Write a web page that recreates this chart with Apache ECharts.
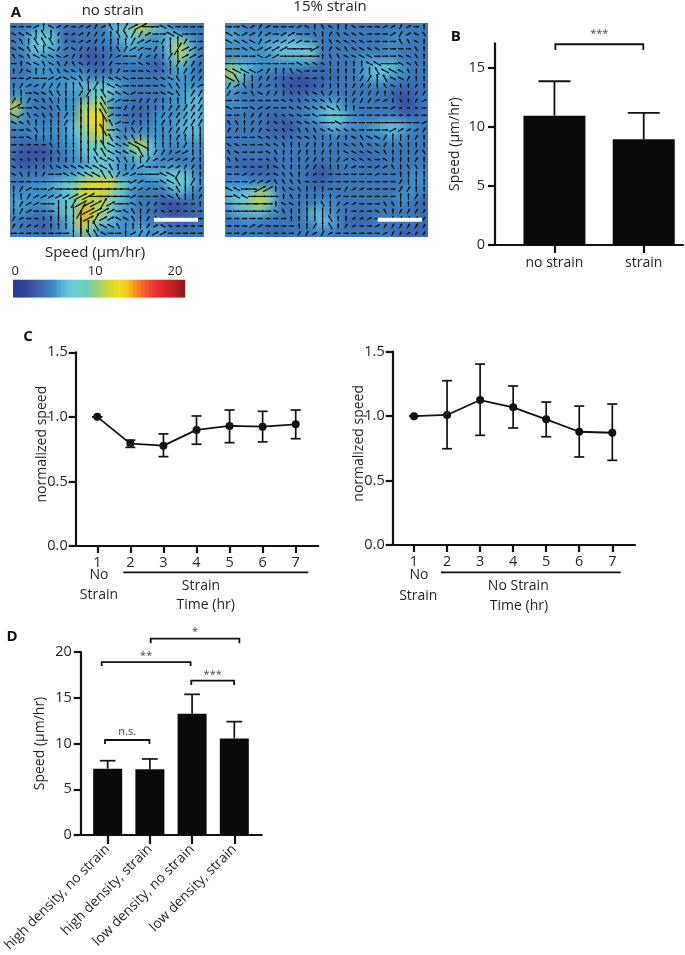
<!DOCTYPE html>
<html><head><meta charset="utf-8">
<script src="https://cdn.jsdelivr.net/npm/echarts@6/dist/echarts.min.js"></script>
<style>
html,body{margin:0;padding:0;background:#fff;width:685px;height:955px;overflow:hidden}
#heatClip{position:absolute;left:0;top:0;width:685px;height:955px;clip-path:path('M10 23H204V237H10Z M225 23H428V237H225Z')}
#heat{position:absolute;left:0;top:0;width:685px;height:955px;filter:blur(4.5px)}
#main{position:absolute;left:0;top:0;width:685px;height:955px}
</style></head><body>
<div id="heatClip"><div id="heat"></div></div>
<div id="main"></div>
<script>
// ---------- DATA ----------
const speedColors=['#2b3990','#30409a','#3a50a3','#3b64ad','#3d78b9','#3f90c8','#5fb6d8','#6dc5dd','#6ccdc8','#6ccdbe','#94cf84','#b4d25c','#d4d92e','#f0de1e','#f9c81b','#f7941d','#f26a28','#ee4035','#e22f30','#d2232a','#b81f24','#8b1a1a'];
const colorbarTicks=[0,0.5,1,1.5,2,2.5,3,3.5,4,4.5,5,5.5,6,6.5,7,7.5,8,8.5,9,9.5,10,10.5,11,11.5,12,12.5,13,13.5,14,14.5,15,15.5,16,16.5,17,17.5,18,18.5,19,19.5,20,20.5,21];
const heatNoStrain=["4456544444689ca65444","45787334445676557954","45776444344565557c74","44655443234455446b64","44555444334444325653","44555555444544445554","45455566897544445555","55445555786544445566","d544455abb5443445566","a544455bdd5433455566","5454556ade6544555666","44555568bc7455555566","433345578975ac755555","32223456787569754455","32334455676556545444","44444557897555668764","4455679bddc865557875","5555569ccca754445654","6555668bbb8654432234","5544589fcb7554432233","4433457ea76555443334","5443456a755556564444"];
const heatStrain=["55444444444444444444","65555565444444445544","55556777844444445444","55555666844445555444","a8655555434445678544","b8544332333445675544","65444322234444444334","54444433444444443234","55444444557544444224","44443344569754444334","44443324457655567654","44443334445444556544","44444444444444444444","44444444444443444444","43333444434444344444","44333444323444444455","55554444334444444455","667b9444444444444554","67ac8444455444444543","56675444665443444443","44544444576433444443","44443344454444444333"];
const dirNoStrain=["aaabdfbbabbcbedcbbaaffaaaa","fffdedcabbcccdeeccbaaffaaa","fedeeedcabbccdddcbbacddcaa","ffeedfcbfccdddecbbacddcbbb","efeffffbcceddcbaacbcdcdbbb","adffefecefccdcaaaffeedcccc","dcfddeeffecccdcaaaffeddccc","aabaabbffecddfffaaafffedcc","dcbbcccddedcdffaaaaafeedcb","ddaffeeddccdefffbaaaffedcc","cdcfeeddddddebbaacccddddcc","baaffeedddddeaacccdddccccc","fbefeedcddddebaacdddcccccc","ffeddddcdddddebacdddcdcccc","aafeddddddddeafdecdddcccdd","aafddddddddddefeedddddcddd","aaaaaeddddddefffffdddddcdd","aaaaadeddddeeffffedcccbbdd","ffeedddddddeffeeddcbbbbbcd","feeddefffffffeddcbaaabbccd","feddcaafffffeecbbaaaffcddd","aaaaaaaaaaaaaaaabbaaffedcd","dcbaabaaaaaaaaaabbbaffeddc","ddcbbbbbbbbaaaaabaaaffeddc","dcbbaaddcbbbcbaafeccaaaaad","dcbaaadddcbbbbafedccfaaaaa","cbaaddddddbcbbffedcdfaaaaa","ccbbcddddddeffedddcbffaaaa","aaaaaaaaddeefaadbccbbaaaaa"];
const dirStrain=["aafbcbaaabfdefddfaaabbcbad","ffbbcbabbaaedcefffaaabcbfe","ffffcbbbbbaadeffffaaaaeefd","aaffbbbbaaabdcfeffffaaaaed","aaaafbbaaaaadeeffffaaaffed","aaaaaaaaaffffdddddffaaffed","ffffbcddefaaaddddcdefffedd","feddcccdfaaaeddddccdeffcdd","cbedcbdedffecdddcccdefddcd","cbaefccdeeefecddccccdeddcc","aaaaaaaffefffecdcccbbdedcb","faafbbaaffffffeddaaaabbaaa","aadcccefffafaaaaaaaaaaaaaa","eedcccfeefffaafaaaaaaaaaab","ccdccffefeeefffffaaaabbbbc","aaaaffeeeffeddcdfeffcdddcd","ffaaaffeddcddcdffeffcdeddd","efaaafeddcddcddfffffedddce","eeaaafedddccddcbfffafdddcd","aaaaadfeddcceddcbaabbedeed","aabbbbfeedcbbaaaaaabaadddd","aaabbbeeeeaaaaaaaaaaaacddd","ffaabbdefedddaacbbaaaaccdd","affaaaadedddddbaaaaaaaddcd","aaaaaadffdddedcbbaaaeeddcd","aaaaaafeddddddcdaaafedcccc","aaaaaaaadddddeddbbbaadcccc","aaabbaaaaddcdedcbaabcccccc","aabaaaaaaccbcbaaaaaabccbcc"];
const dirAngles={a:0,b:28,c:60,d:90,e:120,f:152};

const catsB=['no strain','strain'];
const speedB=[10.94,8.94];
const upperB=[13.85,11.17];

const hours=[1,2,3,4,5,6,7];
const normStrain=[1.0,0.793,0.777,0.899,0.93,0.924,0.942];
const normStrainHi=[1.0,0.82,0.868,1.007,1.053,1.043,1.053];
const normStrainLo=[1.0,0.764,0.692,0.788,0.80,0.806,0.831];
const normCtrl=[1.0,1.009,1.125,1.068,0.975,0.879,0.871];
const normCtrlHi=[1.0,1.275,1.404,1.234,1.109,1.078,1.094];
const normCtrlLo=[1.0,0.747,0.851,0.908,0.84,0.683,0.657];

const catsD=['high density, no strain','high density, strain','low density, no strain','low density, strain'];
const speedD=[7.25,7.18,13.26,10.56];
const upperD=[8.12,8.31,15.37,12.39];
const bracketsB=[[1.01,1.995,16.98,16.5,'***',17.9]];
const bracketsD=[[0.936,1.99,10.38,9.95,'n.s.',11.3],[0.858,2.965,18.9,18.47,'**',19.6],[2.02,4.12,21.46,20.95,'*',22.2],[2.98,3.995,16.87,16.4,'***',17.5]];

// ---------- HELPERS ----------
const FONT='"Open Sans",sans-serif', INK='#231f20';
const heatCells=m=>m.flatMap((r,j)=>[...r].map((c,i)=>[i,j,parseInt(c,36)]));
const arrowCells=(dirs,heat)=>dirs.flatMap((r,j)=>[...r].map((c,i)=>{
  const s=parseInt(heat[Math.floor((j+.5)/dirs.length*heat.length)][Math.floor((i+.5)/r.length*heat[0].length)],36);
  return [i+.5,j+.5,dirAngles[c],1+1.1*s];
}));
const range=n=>Array.from({length:n},(_,i)=>i);

// blurred speed field
const heatGrids=[{left:10,top:23,width:194,height:214},{left:225,top:23,width:203,height:214}];
const heat=echarts.init(document.getElementById('heat'));
heat.setOption({animation:false,backgroundColor:'#3d78b9',
  grid:heatGrids,
  xAxis:heatGrids.map((g,i)=>({type:'category',gridIndex:i,show:false,data:range(20)})),
  yAxis:heatGrids.map((g,i)=>({type:'category',gridIndex:i,show:false,inverse:true,data:range(22)})),
  visualMap:{show:false,min:0,max:21,dimension:2,seriesIndex:[0,1],inRange:{color:speedColors}},
  series:[heatNoStrain,heatStrain].map((m,i)=>({type:'heatmap',xAxisIndex:i,yAxisIndex:i,data:heatCells(m),progressive:0}))
});

function arrows(g,data){return {type:'custom',xAxisIndex:g,yAxisIndex:g,data,silent:true,clip:true,z:5,progressive:0,
  encode:{x:0,y:1},
  renderItem(p,api){
    const c=api.coord([api.value(0),api.value(1)]),a=api.value(2)*Math.PI/180,l=api.value(3)/2;
    const dx=Math.cos(a),dy=-Math.sin(a),nx=-dy,ny=dx,w=1.2;
    const hb=[c[0]+dx*(l-2.4),c[1]+dy*(l-2.4)];
    return {type:'group',children:[
      {type:'line',shape:{x1:c[0]-dx*l,y1:c[1]-dy*l,x2:c[0]+dx*l,y2:c[1]+dy*l},style:{stroke:'#151515',lineWidth:1.25}},
      {type:'polygon',shape:{points:[[c[0]+dx*l,c[1]+dy*l],[hb[0]+nx*w,hb[1]+ny*w],[hb[0]-nx*w,hb[1]-ny*w]]},style:{fill:'#151515'}}
    ]};
  }};}
function errors(g,xs,hi,lo,cap,lw,lowerCap){return {type:'custom',xAxisIndex:g,yAxisIndex:g,z:4,silent:true,clip:false,
  data:xs.map((x,i)=>[x,hi[i],lo[i]]),encode:{x:0,y:[1,2]},
  renderItem(p,api){
    const x=api.value(0),t=api.coord([x,api.value(1)]),b=api.coord([x,api.value(2)]);
    const st={stroke:'#111',lineWidth:lw};
    const h=y=>({type:'line',shape:{x1:t[0]-cap/2,y1:y,x2:t[0]+cap/2,y2:y},style:st});
    const kids=[{type:'line',shape:{x1:t[0],y1:t[1],x2:b[0],y2:b[1]},style:st},h(t[1])];
    if(lowerCap)kids.push(h(b[1]));
    return {type:'group',children:kids};
  }};}
function brackets(g,list){return {type:'custom',xAxisIndex:g,yAxisIndex:g,z:6,silent:true,clip:false,
  data:list,encode:{x:[0,1],y:[2,3]},
  renderItem(p,api){
    const a=api.coord([api.value(0),api.value(2)]),b=api.coord([api.value(1),api.value(2)]),d=api.coord([api.value(0),api.value(3)]);
    const tp=api.coord([(api.value(0)+api.value(1))/2,api.value(5)]);
    return {type:'group',children:[
      {type:'polyline',shape:{points:[[a[0],d[1]],a,b,[b[0],d[1]]]},style:{stroke:'#111',fill:null,lineWidth:1.8}},
      {type:'text',style:{text:list[p.dataIndex][4],x:tp[0],y:tp[1],align:'center',verticalAlign:'middle',font:'11px '+FONT,fill:'#444'}}
    ]};
  }};}
const axisLine={show:true,onZero:false,lineStyle:{color:'#111',width:2.2}};
const tick=l=>({show:true,length:l,lineStyle:{color:'#111',width:2.2}});
const yA=(g,max,iv,name,gap,fmt,pad,margin)=>({type:'value',gridIndex:g,min:0,max,interval:iv,splitLine:{show:false},axisLine,axisTick:tick(7),
  axisLabel:{color:INK,fontSize:14.5,fontFamily:FONT,margin,formatter:fmt,showMaxLabel:max!==17.06},
  name,nameLocation:'middle',nameGap:gap,nameMoveOverlap:false,nameRotate:90,nameTextStyle:{color:INK,fontSize:14,fontFamily:FONT,padding:pad||0}});
const xA=(g,min,max,vals,opt,tl)=>({type:'value',gridIndex:g,min,max,splitLine:{show:false},axisLine,
  axisTick:{...tick(tl),customValues:vals},
  axisLabel:Object.assign({color:INK,fontSize:14.5,fontFamily:FONT,margin:9,customValues:vals,hideOverlap:false,showMinLabel:true,showMaxLabel:true},opt)});
const hidden=(g,min,max,inv)=>({type:'value',gridIndex:g,min,max,show:false,inverse:!!inv,splitLine:{show:false}});
const bar=(g,xs,ys,w)=>({type:'bar',xAxisIndex:g,yAxisIndex:g,barWidth:w,data:xs.map((x,i)=>[x,ys[i]]),itemStyle:{color:'#0a0a0a'},z:3,silent:true});
const line=(g,xs,ys)=>({type:'line',xAxisIndex:g,yAxisIndex:g,data:xs.map((x,i)=>[x,ys[i]]),symbol:'circle',symbolSize:8,showSymbol:true,
  lineStyle:{color:'#111',width:1.8},itemStyle:{color:'#111'},z:5,silent:true});
const txt=(x,y,t,o)=>({type:'text',x,y,z:50,silent:true,style:Object.assign({text:t,font:'14px '+FONT,fill:INK,align:'center',verticalAlign:'middle'},o||{})});
const rule=(x1,x2,y,col,lw)=>({type:'rect',z:50,silent:true,shape:{x:x1,y:y-lw/2,width:x2-x1,height:lw},style:{fill:col}});
const panel=t=>({font:'bold 15px "Open Sans",sans-serif',fill:'#111',align:'center'});

const main=echarts.init(document.getElementById('main'));
main.setOption({animation:false,backgroundColor:'transparent',
  grid:[
    {left:10,top:23,width:194,height:214},        //0 arrows left
    {left:225,top:23,width:203,height:214},       //1 arrows right
    {left:13.3,top:280,width:171.7,height:17.3},  //2 colour bar
    {left:495,top:43.3,width:188,height:201.7},   //3 B
    {left:75.7,top:352.3,width:242.6,height:193.7},//4 C left
    {left:392.7,top:351.7,width:242.3,height:193.3},//5 C right
    {left:80,top:652,width:181.7,height:183}      //6 D
  ],
  xAxis:[
    hidden(0,0,26),hidden(1,0,26),
    {type:'category',gridIndex:2,position:'top',data:colorbarTicks,axisLine:{show:false},axisTick:{show:false},
     axisLabel:{color:INK,fontSize:13,fontFamily:FONT,margin:2,interval:i=>i%20===0}},
    xA(3,0.334,2.44,[1,2],{formatter:v=>catsB[v-1],fontSize:14,margin:11},8),
    xA(4,0.347,7.683,hours,{},7),
    xA(5,0.355,7.687,hours,{},7),
    xA(6,0.363,4.649,[1,2,3,4],{formatter:v=>catsD[v-1],rotate:45,fontSize:13.8,margin:12},9)
  ],
  yAxis:[
    hidden(0,0,29,true),hidden(1,0,29,true),
    {type:'category',gridIndex:2,show:false,data:['']},
    yA(3,17.06,5,'Speed (µm/hr)',33,undefined,0,10),
    yA(4,1.5,0.5,'normalized speed',27,v=>v.toFixed(1),[0,0,0,10],8),
    yA(5,1.5,0.5,'normalized speed',27,v=>v.toFixed(1),[0,0,0,10],8),
    yA(6,20,5,'Speed (µm/hr)',34,undefined,0,9)
  ],
  visualMap:{show:false,min:0,max:21,dimension:2,seriesIndex:2,inRange:{color:speedColors}},
  series:[
    arrows(0,arrowCells(dirNoStrain,heatNoStrain)),
    arrows(1,arrowCells(dirStrain,heatStrain)),
    {type:'heatmap',xAxisIndex:2,yAxisIndex:2,data:colorbarTicks.map((v,i)=>[i,0,v]),silent:true},
    bar(3,[1,2],speedB,62),
    errors(3,[1,2],upperB,speedB,32,1.8,false),
    brackets(3,bracketsB),
    line(4,hours,normStrain),
    errors(4,hours,normStrainHi,normStrainLo,10,1.7,true),
    line(5,hours,normCtrl),
    errors(5,hours,normCtrlHi,normCtrlLo,10,1.7,true),
    bar(6,[1,2,3,4],speedD,29),
    errors(6,[1,2,3,4],upperD,speedD,15.7,1.7,false),
    brackets(6,bracketsD)
  ],
  graphic:[
    rule(154,198,219.7,'#fff',4),rule(377.7,422,219.7,'#fff',4),
    txt(16,13,'A',panel()),txt(455.7,36.7,'B',panel()),txt(28,337,'C',panel()),txt(12,636.7,'D',panel()),
    txt(112.7,10.7,'no strain',{font:'15px '+FONT}),txt(330,7,'15% strain',{font:'15px '+FONT}),
    txt(95,253,'Speed (µm/hr)',{font:'15px '+FONT}),
    rule(123.3,308.3,572.3,'#111',1.8),rule(441,620.7,572.3,'#111',1.8),
    txt(99,575,'No'),txt(99,595,'Strain'),txt(201,586,'Strain'),txt(205.7,605,'Time (hr)'),
    txt(419,575,'No'),txt(418.3,596,'Strain'),txt(518.3,586,'No Strain'),txt(519,606,'Time (hr)')
  ]
});
</script></body></html>
